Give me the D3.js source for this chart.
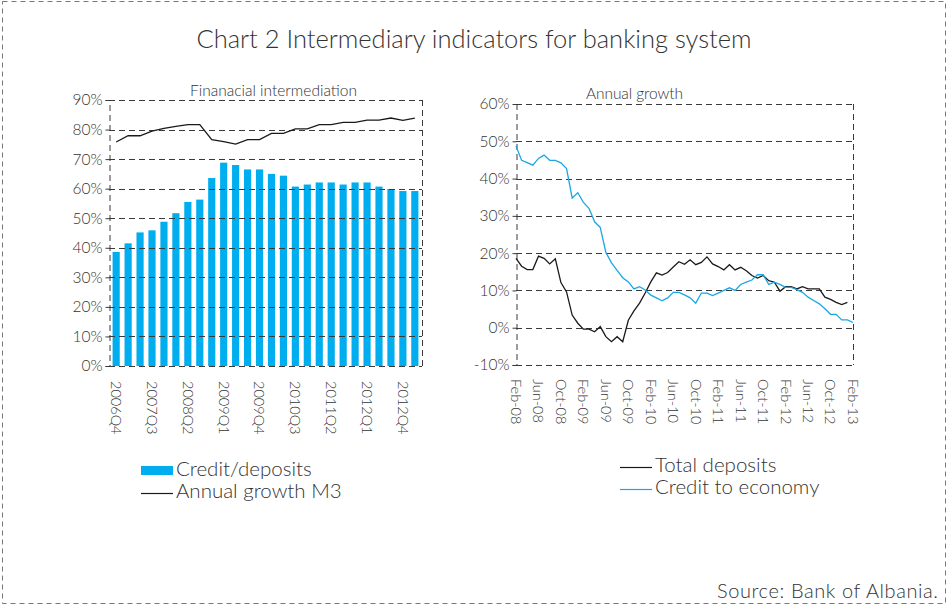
<!DOCTYPE html>
<html>
<head>
<meta charset="utf-8">
<script src="https://cdn.jsdelivr.net/npm/d3@7"></script>
<style>
  body { margin: 0; background: #fff; }
  text { font-family: Lato, "Open Sans", sans-serif; font-weight: 300; fill: #333; }
</style>
</head>
<body>
<svg id="chart" width="949" height="607"></svg>
<script>
// ---- Financial intermediation (quarterly) ----
const quarters = [
  "2006Q4",
  "2007Q1", "2007Q2", "2007Q3", "2007Q4",
  "2008Q1", "2008Q2", "2008Q3", "2008Q4",
  "2009Q1", "2009Q2", "2009Q3", "2009Q4",
  "2010Q1", "2010Q2", "2010Q3", "2010Q4",
  "2011Q1", "2011Q2", "2011Q3", "2011Q4",
  "2012Q1", "2012Q2", "2012Q3", "2012Q4",
  "2013Q1"
];
const creditDeposits = [38.6, 41.5, 45.2, 45.9, 48.8, 51.7, 55.5, 56.3, 63.6, 68.8, 68.0, 66.5, 66.5,
  65.0, 64.4, 60.7, 61.4, 62.1, 62.1, 61.4, 62.1, 62.1, 60.7, 59.9, 59.2, 59.2];
const m3Growth = [75.8, 77.9, 77.9, 79.5, 80.4, 81.1, 81.7, 81.7, 76.6, 75.9, 75.1, 76.6, 76.6,
  78.7, 78.7, 80.2, 80.2, 81.7, 81.7, 82.4, 82.4, 83.2, 83.2, 83.9, 83.1, 83.9];
const quarterTicks = ["2006Q4", "2007Q3", "2008Q2", "2009Q1", "2009Q4", "2010Q3", "2011Q2", "2012Q1", "2012Q4"];
const leftPctTicks = [0, 10, 20, 30, 40, 50, 60, 70, 80, 90];

// ---- Annual growth (monthly, Feb-08 .. Feb-13) ----
const monthTicks = ["Feb-08", "Jun-08", "Oct-08", "Feb-09", "Jun-09", "Oct-09", "Feb-10", "Jun-10",
  "Oct-10", "Feb-11", "Jun-11", "Oct-11", "Feb-12", "Jun-12", "Oct-12", "Feb-13"];
const totalDeposits = [18.6, 16.5, 15.6, 15.6, 19.2, 18.6, 17.1, 18.5, 12.1, 9.6,
  3.4, 1.2, -0.4, -0.4, -1.1, 0.3, -2.4, -3.75, -2.4, -3.75,
  2.0, 4.5, 6.6, 9.3, 12.3, 14.7, 14.1, 14.8, 16.3, 17.7,
  17.0, 18.2, 16.9, 17.5, 19.0, 17.1, 16.4, 15.5, 16.9, 15.5,
  16.2, 15.3, 14.0, 13.3, 14.0, 12.6, 12.2, 9.8, 11.0, 11.0,
  10.4, 11.0, 10.4, 10.4, 10.4, 8.2, 7.6, 6.8, 6.2, 6.8];
const creditEconomy = [48.7, 44.9, 44.3, 43.6, 45.4, 46.3, 44.9, 44.9, 44.2, 42.7,
  34.8, 36.2, 33.6, 32.0, 28.4, 26.9, 20.2, 17.4, 15.4, 13.4,
  12.3, 10.4, 11.0, 10.1, 8.75, 8.0, 7.2, 8.0, 9.5, 9.5,
  8.8, 8.0, 6.6, 9.3, 9.3, 8.6, 9.3, 10.0, 10.7, 10.0,
  11.6, 12.2, 12.8, 14.2, 14.2, 11.6, 12.2, 11.6, 10.8, 10.8,
  10.2, 9.5, 8.2, 7.3, 6.4, 5.1, 3.6, 3.6, 2.1, 2.1, 1.4];
const rightPctTicks = [-10, 0, 10, 20, 30, 40, 50, 60];

const BLUE = "#00aeef";
const LINE_BLUE = "#1aa8e4";
const DARK = "#1a1a1a";
const GRID = "#3a3a3a";
const DASH = "6,4";

const svg = d3.select("#chart");
svg.append("rect").attr("width", 949).attr("height", 607).attr("fill", "#fff");

// outer frame
svg.append("rect")
  .attr("x", 2.5).attr("y", 1.5).attr("width", 943).attr("height", 602)
  .attr("fill", "none").attr("stroke", "#777").attr("stroke-width", 1)
  .attr("stroke-dasharray", "5,4");

svg.append("text")
  .attr("x", 474).attr("y", 48).attr("text-anchor", "middle")
  .attr("font-size", 25.5)
  .attr("textLength", 555)
  .text("Chart 2 Intermediary indicators for banking system");

svg.append("text")
  .attr("x", 717).attr("y", 598)
  .attr("font-size", 20)
  .attr("textLength", 221)
  .text("Source: Bank of Albania.");

// shared helper: dashed frame, grid and y axis
function frame(g, x0, x1, y, ticks) {
  const [yb, yt] = y.range();
  g.append("g").selectAll("line").data(ticks).join("line")
    .attr("x1", x0).attr("x2", x1)
    .attr("y1", d => Math.round(y(d)) + 0.5).attr("y2", d => Math.round(y(d)) + 0.5)
    .attr("stroke", GRID).attr("stroke-dasharray", DASH);
  g.append("line")
    .attr("x1", x1 + 0.5).attr("x2", x1 + 0.5).attr("y1", yt).attr("y2", yb)
    .attr("stroke", GRID).attr("stroke-dasharray", DASH);
  const ax = g.append("g").attr("transform", `translate(${x0 + 0.5},0)`)
    .call(d3.axisLeft(y).tickValues(ticks).tickSize(4).tickPadding(3).tickFormat(d => d + "%"));
  ax.select(".domain").attr("stroke", GRID).attr("stroke-dasharray", DASH);
  ax.selectAll(".tick line").attr("stroke", GRID);
  ax.selectAll(".tick text").attr("font-size", 15.5).attr("fill", "#333")
    .style("font-family", "Lato, 'Open Sans', sans-serif").style("font-weight", 300);
}

// rotated category labels under a chart
function xLabels(g, items, yBase) {
  g.selectAll("text.xl").data(items).join("text")
    .attr("class", "xl")
    .attr("transform", d => `translate(${d.x},${yBase}) rotate(90)`)
    .attr("dy", "0.35em")
    .attr("font-size", 14.5)
    .text(d => d.label);
}

// ===== Left chart =====
const L = { x0: 109, x1: 422, yt: 100, yb: 366 };
const gL = svg.append("g");
const xL = d3.scaleBand().domain(quarters).range([L.x0, L.x1]).paddingInner(0.4).paddingOuter(0.3);
const yL = d3.scaleLinear().domain([0, 90]).range([L.yb, L.yt]);

gL.append("g").selectAll("rect").data(creditDeposits).join("rect")
  .attr("x", (d, i) => xL(quarters[i]))
  .attr("width", xL.bandwidth())
  .attr("y", d => yL(d))
  .attr("height", d => yL(0) - yL(d))
  .attr("fill", BLUE);

frame(gL, L.x0, L.x1, yL, leftPctTicks);

gL.append("path")
  .datum(m3Growth)
  .attr("fill", "none").attr("stroke", DARK).attr("stroke-width", 1.3)
  .attr("d", d3.line().x((d, i) => xL(quarters[i]) + xL.bandwidth() / 2).y(d => yL(d)));

gL.append("text").attr("x", 190).attr("y", 96)
  .attr("font-size", 15.5).attr("textLength", 167).text("Finanacial intermediation");

xLabels(gL, quarterTicks.map(q => ({ label: q, x: xL(q) + xL.bandwidth() / 2 })), 381);

// left legend
const lgL = gL.append("g");
lgL.append("rect").attr("x", 141).attr("y", 466).attr("width", 32).attr("height", 9).attr("fill", BLUE);
lgL.append("text").attr("x", 176).attr("y", 476).attr("font-size", 20.5).text("Credit/deposits");
lgL.append("line").attr("x1", 141).attr("x2", 173).attr("y1", 493.5).attr("y2", 493.5)
  .attr("stroke", DARK).attr("stroke-width", 1.2);
lgL.append("text").attr("x", 176).attr("y", 498).attr("font-size", 20.5).text("Annual growth M3");

// ===== Right chart =====
const R = { x0: 516, x1: 853, yt: 104, yb: 365 };
const gR = svg.append("g");
const xR = d3.scaleLinear().domain([0, creditEconomy.length - 1]).range([R.x0, R.x1]);
const yR = d3.scaleLinear().domain([-10, 60]).range([R.yb, R.yt]);

frame(gR, R.x0, R.x1, yR, rightPctTicks);

const lineR = d3.line().x((d, i) => xR(i)).y(d => yR(d));
gR.append("path").datum(totalDeposits)
  .attr("fill", "none").attr("stroke", DARK).attr("stroke-width", 1.3).attr("d", lineR);
gR.append("path").datum(creditEconomy)
  .attr("fill", "none").attr("stroke", LINE_BLUE).attr("stroke-width", 1.3).attr("d", lineR);

gR.append("text").attr("x", 586).attr("y", 99)
  .attr("font-size", 15.5).attr("textLength", 97).text("Annual growth");

xLabels(gR, monthTicks.map((m, k) => ({ label: m, x: xR(k * 4) })), 379);

// right legend
const lgR = gR.append("g");
lgR.append("line").attr("x1", 620).attr("x2", 652).attr("y1", 467.5).attr("y2", 467.5)
  .attr("stroke", DARK).attr("stroke-width", 1.2);
lgR.append("text").attr("x", 655).attr("y", 472).attr("font-size", 20.5).text("Total deposits");
lgR.append("line").attr("x1", 620).attr("x2", 652).attr("y1", 489.5).attr("y2", 489.5)
  .attr("stroke", LINE_BLUE).attr("stroke-width", 1.2);
lgR.append("text").attr("x", 655).attr("y", 494).attr("font-size", 20.5).text("Credit to economy");
</script>
</body>
</html>
